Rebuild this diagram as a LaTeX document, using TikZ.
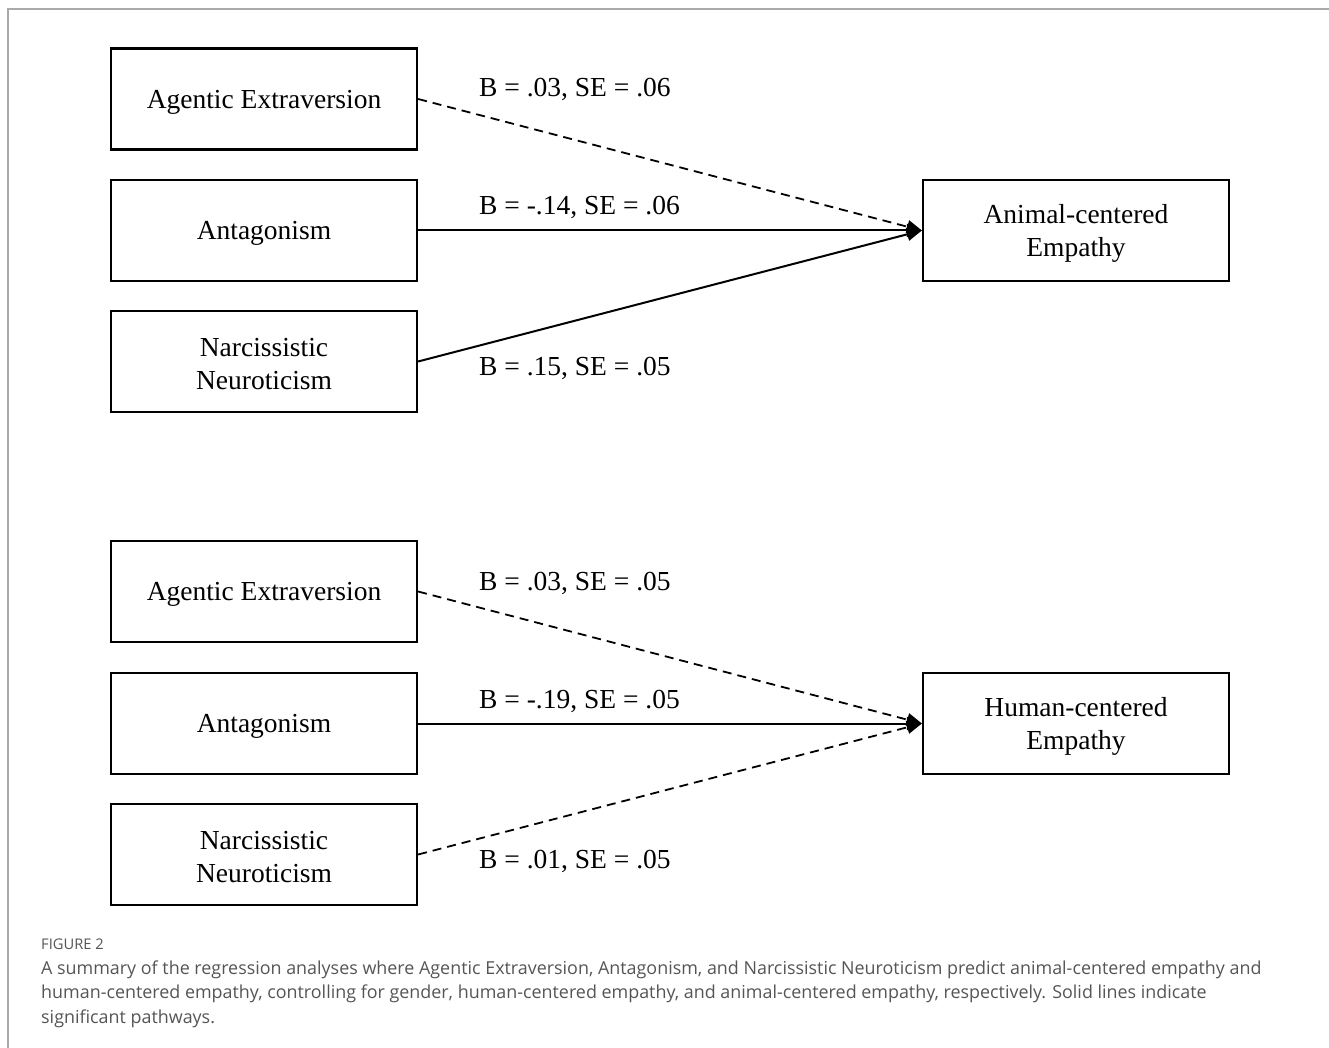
\documentclass[tikz,border=0pt]{standalone}
\usepackage{fontspec}
\setmainfont{Liberation Serif}
\newfontfamily\capfont{Open Sans}
\usetikzlibrary{arrows.meta}
\definecolor{framegray}{HTML}{AAAAAA}
\definecolor{capgray}{HTML}{555555}
\tikzset{
  varbox/.style={draw=black, line width=2.2pt, rectangle, minimum width=306pt, minimum height=101pt, inner sep=0pt},
  boxtext/.style={align=center, font=\fontsize{27.5}{33}\selectfont, inner sep=0pt, yshift=-3pt},
  coeflabel/.style={anchor=base west, font=\fontsize{27.5}{33}\selectfont, inner sep=0pt},
  sigpath/.style={line width=2pt, -{Triangle[length=15pt,width=13pt]}},
  nspath/.style={line width=1.8pt, dash pattern=on 9pt off 6pt, -{Triangle[length=15pt,width=13pt]}},
  captext/.style={anchor=base west, inner sep=0pt, font=\capfont\fontsize{17.9}{20}\selectfont, text=capgray},
}
\begin{document}
\begin{tikzpicture}[x=1pt,y=-1pt]
\useasboundingbox (0,0) rectangle (1329,1048);
\draw[framegray, line width=1.5pt] (8,1048) -- (8,9) -- (1329,9);

% top panel
\node[varbox, label={[boxtext]center:Agentic Extraversion}] (ae1) at (264,99) {};
\node[varbox, label={[boxtext]center:Antagonism}] (an1) at (264,230.5) {};
\node[varbox, label={[boxtext]center:Narcissistic\\Neuroticism}] (nn1) at (264,361.5) {};
\node[varbox, label={[boxtext]center:Animal-centered\\Empathy}] (ace) at (1076,230.5) {};
\draw[nspath] (ae1.east) -- (ace.west);
\draw[sigpath] (an1.east) -- (ace.west);
\draw[sigpath] (nn1.east) -- (ace.west);
\node[coeflabel] (l1) at (479,97) {B = .03, SE = .06};
\node[coeflabel] (l2) at (479,215) {B = -.14, SE = .06};
\node[coeflabel] (l3) at (479,375) {B = .15, SE = .05};

% bottom panel
\node[varbox, label={[boxtext]center:Agentic Extraversion}] (ae2) at (264,591.5) {};
\node[varbox, label={[boxtext]center:Antagonism}] (an2) at (264,723.5) {};
\node[varbox, label={[boxtext]center:Narcissistic\\Neuroticism}] (nn2) at (264,854.5) {};
\node[varbox, label={[boxtext]center:Human-centered\\Empathy}] (hce) at (1076,723.5) {};
\draw[nspath] (ae2.east) -- (hce.west);
\draw[sigpath] (an2.east) -- (hce.west);
\draw[nspath] (nn2.east) -- (hce.west);
\node[coeflabel] (l4) at (479,590) {B = .03, SE = .05};
\node[coeflabel] (l5) at (479,708) {B = -.19, SE = .05};
\node[coeflabel] (l6) at (479,868) {B = .01, SE = .05};

% caption
\node[captext, font=\capfont\fontsize{14.7}{16}\selectfont] (fig) at (41,949) {FIGURE 2};
\node[captext] (c1) at (41,974) {A summary of the regression analyses where Agentic Extraversion, Antagonism, and Narcissistic Neuroticism predict animal-centered empathy and};
\node[captext] (c2) at (41,998.5) {human-centered empathy, controlling for gender, human-centered empathy, and animal-centered empathy, respectively. Solid lines indicate};
\node[captext] (c3) at (41,1023) {significant pathways.};
\end{tikzpicture}
\end{document}
